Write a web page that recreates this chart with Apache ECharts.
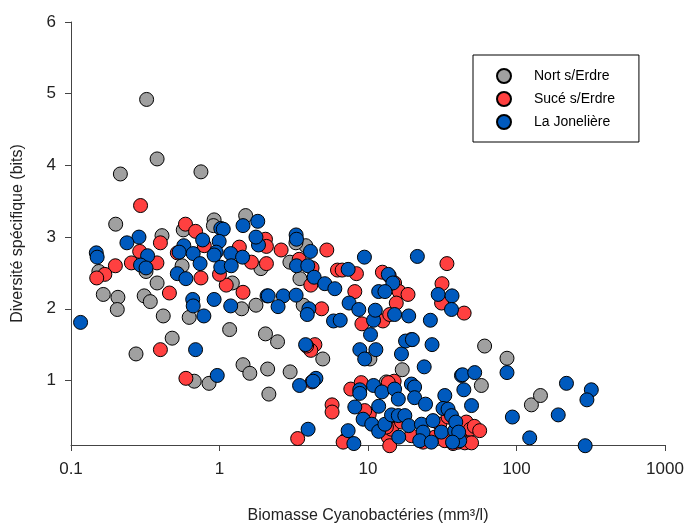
<!DOCTYPE html>
<html>
<head>
<meta charset="utf-8">
<script src="https://cdn.jsdelivr.net/npm/echarts@6/dist/echarts.min.js"></script>
<style>
  html, body { margin: 0; padding: 0; background: #fff; }
  #chart { width: 687px; height: 525px; }
</style>
</head>
<body>
<div id="chart"></div>
<script>
// [biomasse, diversite]
let nortData = [
	[0.323, 4.92], [0.38, 4.09], [0.215, 3.88], [0.75, 3.91], [0.2, 3.18], [0.92, 3.24], [0.91, 3.16],
	[1.5, 3.3], [0.41, 3.02], [0.57, 3.1], [0.32, 2.52], [0.56, 2.6], [0.38, 2.36], [1.9, 2.56],
	[1.22, 2.36], [0.165, 2.2], [0.207, 2.16], [0.311, 2.18], [0.342, 2.1], [0.154, 2.52], [0.205, 1.99],
	[3.81, 2.88], [3.27, 2.92], [2.98, 2.65], [3.48, 2.42], [3.66, 2.05], [2.04, 1.65], [2.46, 1.54],
	[4.96, 1.3], [2.11, 1.16], [2.99, 1.12], [2.15, 0.81], [0.418, 1.9], [0.274, 1.37], [0.48, 1.59],
	[0.625, 1.88], [1.17, 1.71], [1.41, 2.0], [1.76, 2.05], [1.44, 1.22], [1.6, 1.1], [0.676, 0.99],
	[0.85, 0.96], [10.3, 1.3], [13.3, 0.98], [17, 1.15], [61, 1.48], [86.3, 1.31], [58, 0.93],
	[126, 0.66], [145, 0.79]
];
let suceData = [
	[0.294, 3.44], [0.59, 3.18], [0.69, 3.08], [0.40, 2.92], [0.29, 2.8], [0.255, 2.64], [0.199, 2.6],
	[0.169, 2.48], [0.149, 2.43], [0.379, 2.64], [0.52, 2.78], [0.75, 2.43], [0.79, 2.88], [1.11, 2.33],
	[1.0, 2.48], [1.36, 2.86], [1.64, 2.65], [2.04, 2.97], [2.07, 2.87], [2.07, 2.63], [1.44, 2.23],
	[0.46, 2.22], [2.6, 2.82], [5.28, 2.82], [34, 2.63], [3.44, 2.69], [4.2, 2.57], [4.12, 2.33],
	[6.23, 2.54], [6.7, 2.54], [8.36, 2.49], [8.15, 2.24], [12.5, 2.51], [13.9, 2.46], [15.1, 2.36],
	[16.2, 2.24], [18.6, 2.2], [31.5, 2.35], [4.87, 2.0], [9.1, 1.79], [12.6, 1.83], [14, 1.92],
	[15.5, 2.08], [31.3, 2.08], [44.4, 1.94], [19.6, 1.57], [4.39, 1.5], [4.12, 1.42], [3.86, 1.48],
	[0.40, 1.43], [0.594, 1.03], [4.2, 0.98], [5.73, 0.66], [5.73, 0.56], [3.36, 0.19], [7.66, 0.88],
	[9.0, 0.97], [15, 0.99], [13.7, 0.97], [7.15, 0.18], [6.8, 0.14], [10.2, 0.53], [9.5, 0.58],
	[13.7, 0.21], [14.4, 0.32], [13.3, 0.35], [14, 0.09], [16.8, 0.42], [19.6, 0.23], [23.5, 0.14],
	[28.2, 0.21], [30.4, 0.39], [34.6, 0.49], [32.9, 0.16], [37.4, 0.12], [40.6, 0.14], [41.5, 0.21],
	[45.9, 0.42], [48.9, 0.32], [52, 0.36], [56.5, 0.3], [44.9, 0.13], [49.8, 0.13]
];
let jonelData = [
	[1.81, 3.22], [1.44, 3.16], [1.02, 3.12], [1.06, 3.11], [0.287, 3.0], [0.238, 2.92], [0.148, 2.78],
	[0.15, 2.72], [0.328, 2.74], [0.294, 2.61], [0.32, 2.57], [0.575, 2.88], [0.535, 2.79], [0.665, 2.77],
	[0.77, 2.96], [0.74, 2.63], [0.52, 2.49], [0.594, 2.42], [0.995, 2.94], [0.95, 2.79], [0.92, 2.75],
	[1.19, 2.77], [1.43, 2.72], [1.02, 2.58], [1.2, 2.6], [1.83, 2.89], [1.76, 3.0], [0.66, 2.13],
	[0.92, 2.13], [2.09, 2.18], [3.28, 3.03], [3.30, 2.97], [4.1, 2.8], [9.46, 2.72], [21.5, 2.73],
	[3.3, 2.6], [3.93, 2.6], [4.34, 2.44], [5.12, 2.35], [5.98, 2.28], [7.35, 2.55], [13.7, 2.48],
	[14.7, 2.36], [11.8, 2.24], [13, 2.24], [29.7, 2.2], [36.8, 2.18], [2.13, 2.18], [2.69, 2.18],
	[3.28, 2.19], [2.48, 2.03], [4.0, 2.0], [3.9, 1.92], [7.46, 2.08], [8.67, 1.99], [5.86, 1.83],
	[6.5, 1.84], [10.9, 1.84], [11.2, 1.98], [10.4, 1.64], [15.1, 1.92], [18.8, 1.9], [26.3, 1.84],
	[36.5, 1.99], [3.8, 1.5], [3.46, 0.93], [4.46, 1.03], [4.27, 0.99], [3.95, 0.32], [8.81, 1.43],
	[9.5, 1.3], [11.3, 1.43], [16.8, 1.37], [17.9, 1.55], [19.9, 1.57], [27, 1.5], [23.9, 1.19],
	[42.6, 1.07], [8.8, 0.87], [8.8, 0.82], [10.9, 0.93], [12.4, 0.84], [8.15, 0.63], [15.1, 0.88],
	[16, 0.74], [11.8, 0.64], [19.6, 0.95], [20.6, 0.91], [20.6, 0.76], [24.4, 0.67], [32.9, 0.79],
	[32, 0.61], [34.6, 0.6], [9.27, 0.46], [7.35, 0.3], [8.03, 0.12], [10.6, 0.39], [11.8, 0.29],
	[13, 0.39], [14.4, 0.52], [16, 0.51], [17.7, 0.51], [18.8, 0.37], [16.1, 0.21], [22.9, 0.39],
	[27.4, 0.44], [23.5, 0.28], [22.3, 0.16], [26.7, 0.14], [31.2, 0.28], [38.4, 0.3], [36.5, 0.51],
	[41.5, 0.16], [39, 0.42], [40.8, 0.28], [37.1, 0.14], [43.3, 1.08], [52.3, 1.11], [86.3, 1.11],
	[44.2, 0.87], [49.8, 0.65], [93.8, 0.49], [122.7, 0.2], [191, 0.52], [217, 0.96], [319, 0.87],
	[298, 0.73], [290, 0.09], [0.116, 1.81], [0.665, 2.04], [0.785, 1.9], [0.69, 1.43], [1.19, 2.04],
	[0.966, 1.07]
];
let seriesNames = ['Nort s/Erdre', 'Sucé s/Erdre', 'La Jonelière'];
let seriesColors = ['#a0a0a0', '#ff4040', '#005abe'];
let yTicks = [1, 2, 3, 4, 5, 6];

let chart = echarts.init(document.getElementById('chart'));
let font = 'Liberation Sans, Arial, sans-serif';

let allData = [nortData, suceData, jonelData];
let series = allData.map(function(d, i) {
	return {
		name: seriesNames[i],
		type: 'scatter',
		data: d,
		symbol: 'circle',
		symbolSize: 14,
		clip: false,
		itemStyle: {
			color: seriesColors[i],
			borderColor: '#000',
			borderWidth: 1,
			opacity: 1
		}
	};
});

option = {
	animation: false,
	backgroundColor: '#fff',
	grid: {
		left: 71,
		right: 22,
		top: 22,
		bottom: 80,
		outerBoundsMode: 'none'
	},
	legend: {
		orient: 'vertical',
		left: 473,
		top: 55,
		data: seriesNames,
		icon: 'circle',
		itemWidth: 14,
		itemHeight: 14,
		itemGap: 7,
		padding: [13, 24, 12, 23],
		borderColor: '#000',
		borderWidth: 1,
		textStyle: { fontFamily: font, fontSize: 14, color: '#000', padding: [0, 0, 0, 18] }
	},
	xAxis: {
		type: 'log',
		logBase: 10,
		min: 0.1,
		max: 1000,
		name: 'Biomasse Cyanobactéries (mm³/l)',
		nameLocation: 'middle',
		nameGap: 63,
		nameTextStyle: { fontFamily: font, fontSize: 16, color: '#222' },
		axisLine: { onZero: false, lineStyle: { color: '#444', width: 1 } },
		axisTick: { show: true, length: 6, inside: false, lineStyle: { color: '#444' } },
		minorTick: { show: false },
		splitLine: { show: false },
		axisLabel: {
			fontFamily: font, fontSize: 17, color: '#222', margin: 16,
			formatter: function(v) { return String(+v.toPrecision(3)); }
		}
	},
	yAxis: {
		type: 'value',
		min: 0.1,
		max: 6,
		name: 'Diversité spécifique (bits)',
		nameLocation: 'middle',
		nameGap: 45,
		nameTextStyle: { fontFamily: font, fontSize: 16, color: '#222' },
		axisLine: { show: true, onZero: false, lineStyle: { color: '#444', width: 1 } },
		axisTick: { show: true, length: 6, customValues: yTicks, lineStyle: { color: '#444' } },
		splitLine: { show: false },
		axisLabel: {
			fontFamily: font, fontSize: 17, color: '#222', margin: 15,
			customValues: yTicks
		}
	},
	series: series
};

chart.setOption(option, true);
</script>
</body>
</html>
